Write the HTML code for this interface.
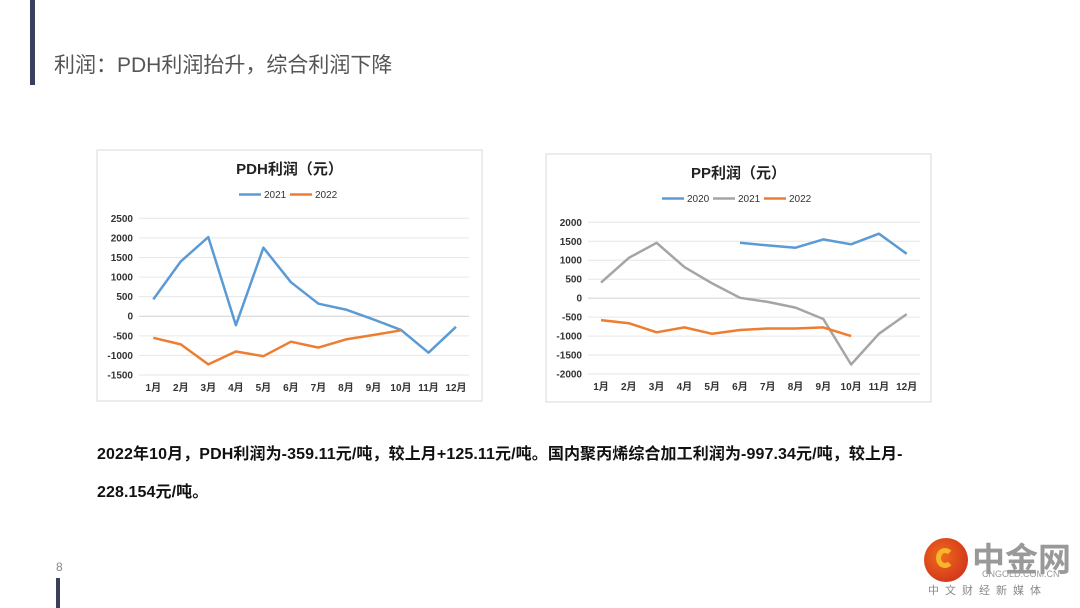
<!DOCTYPE html>
<html><head><meta charset="utf-8">
<style>
html,body{margin:0;padding:0;background:#fff;}
body{width:1080px;height:608px;position:relative;overflow:hidden;font-family:"Liberation Sans","Noto Sans CJK SC",sans-serif;}
.abs{position:absolute;}
</style></head><body>
<div class="abs" style="left:30px;top:0;width:5px;height:85px;background:#3a3f5c"></div>
<div class="abs" style="left:54px;top:49px;font-size:21px;color:#555;white-space:nowrap">利润：PDH利润抬升，综合利润下降</div>

<svg class="abs" style="left:0;top:0" width="1080" height="608">
<g id="c1"></g>
<g id="c2"></g>
</svg>

<div class="abs" style="left:97px;top:440px;font-size:16px;letter-spacing:0.1px;font-weight:bold;color:#111;white-space:nowrap">2022年10月，PDH利润为-359.11元/吨，较上月+125.11元/吨。国内聚丙烯综合加工利润为-997.34元/吨，较上月-</div>
<div class="abs" style="left:97px;top:478px;font-size:16px;letter-spacing:0.1px;font-weight:bold;color:#111;white-space:nowrap">228.154元/吨。</div>

<div class="abs" style="left:56px;top:560px;font-size:12px;color:#888">8</div>
<div class="abs" style="left:56px;top:578px;width:4px;height:30px;background:#3a3f5c"></div>

<div class="abs" style="left:920px;top:535px;width:160px;height:73px">
 <div class="abs" style="left:4px;top:3px;width:44px;height:44px;border-radius:50%;background:radial-gradient(circle at 40% 40%,#f06a1e,#c8261a)"></div>
 <div class="abs" style="left:16px;top:13px;width:18px;height:20px;border-radius:50%;border:5px solid #f5b62a;border-right-color:transparent;box-sizing:border-box"></div>
 <div class="abs" style="left:52px;top:-2px;font-size:33px;font-weight:bold;color:#999;white-space:nowrap">中金网</div>
 <div class="abs" style="left:62px;top:34px;font-size:9px;color:#999">CNGOLD.COM.CN</div>
 <div class="abs" style="left:8px;top:47px;font-size:11px;color:#888;letter-spacing:6px;white-space:nowrap">中文财经新媒体</div>
</div>

<script>
const months=['1月','2月','3月','4月','5月','6月','7月','8月','9月','10月','11月','12月'];
const pdhTicks=[2500,2000,1500,1000,500,0,-500,-1000,-1500];
const pdh2021=[430,1400,2020,-230,1750,870,320,170,-80,-350,-930,-270];
const pdh2022=[-550,-720,-1230,-900,-1020,-650,-800,-590,-480,-360];
const ppTicks=[2000,1500,1000,500,0,-500,-1000,-1500,-2000];
const pp2020=[null,null,null,null,null,1460,1390,1330,1550,1420,1700,1170];
const pp2021=[410,1060,1460,820,390,10,-100,-250,-550,-1750,-940,-420];
const pp2022=[-580,-660,-900,-770,-940,-840,-800,-800,-770,-1000];
const NS='http://www.w3.org/2000/svg';
function el(p,t,a){const e=document.createElementNS(NS,t);for(const k in a)e.setAttribute(k,a[k]);p.appendChild(e);return e;}
function chart(g,cfg){
 const box=el(g,'rect',{x:cfg.bx,y:cfg.by,width:cfg.bw,height:cfg.bh,fill:'#fff',stroke:'#d9d9d9'});
 
 
 const t=el(g,'text',{x:cfg.bx+cfg.bw/2,y:cfg.by+24,'text-anchor':'middle','font-size':15,'font-weight':'bold',fill:'#222'});t.textContent=cfg.title;
 
 
 const max=cfg.ticks[0],min=cfg.ticks[cfg.ticks.length-1];
 const y=v=>cfg.yTop+(max-v)/(max-min)*(cfg.yBot-cfg.yTop);
 const x=i=>cfg.x0+i*(cfg.x1-cfg.x0)/11;
 cfg.ticks.forEach(v=>{
  const l=el(g,'line',{x1:cfg.gl,x2:cfg.gr,y1:y(v),y2:y(v),stroke:v===0?'#d0d0d0':'#e6e6e6','stroke-width':1});
  
  
  const tx=el(g,'text',{x:cfg.gl-6,y:y(v)+3.5,'text-anchor':'end','font-size':10,'font-weight':'bold',fill:'#333'});tx.textContent=v;
  
  
 });
 months.forEach((m,i)=>{
  const tx=el(g,'text',{x:x(i),y:cfg.yBot+16,'text-anchor':'middle','font-size':10,'font-weight':'bold',fill:'#333'});tx.textContent=m;
  
  
 });
 cfg.series.forEach(s=>{
  let d='',pen=false;
  s.data.forEach((v,i)=>{if(v===null){pen=false;return;}d+=(pen?'L':'M')+x(i).toFixed(1)+','+y(v).toFixed(1);pen=true;});
  const p=el(g,'path',{d:d,fill:'none',stroke:s.color,'stroke-width':2.5,'stroke-linejoin':'round'});
  
  
 });
 let lx=cfg.legX;
 cfg.series.forEach(s=>{
  const ll=el(g,'line',{x1:lx,x2:lx+22,y1:cfg.legY,y2:cfg.legY,stroke:s.color,'stroke-width':2.5});
  
  
  const tx=el(g,'text',{x:lx+25,y:cfg.legY+3.5,'font-size':10,fill:'#333'});tx.textContent=s.name;
  
  
  lx+=51;
 });
}
chart(document.getElementById('c1'),{bx:97,by:150,bw:385,bh:251,title:'PDH利润（元）',ticks:pdhTicks,yTop:218.3,yBot:375,x0:153.3,x1:456,gl:139,gr:469,legX:239,legY:194.5,
 series:[{name:'2021',color:'#5b9bd5',data:pdh2021},{name:'2022',color:'#ed7d31',data:pdh2022}]});
chart(document.getElementById('c2'),{bx:546,by:154,bw:385,bh:248,title:'PP利润（元）',ticks:ppTicks,yTop:222.3,yBot:374,x0:601,x1:906.7,gl:588,gr:920,legX:662,legY:198.5,
 series:[{name:'2020',color:'#5b9bd5',data:pp2020},{name:'2021',color:'#a5a5a5',data:pp2021},{name:'2022',color:'#ed7d31',data:pp2022}]});
</script>
</body></html>
